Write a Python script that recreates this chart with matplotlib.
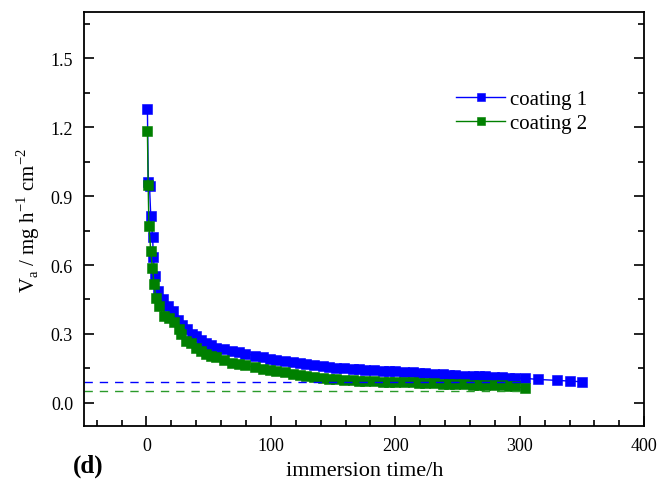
import matplotlib
matplotlib.use("Agg")
import matplotlib.pyplot as plt
from matplotlib.ticker import MultipleLocator

plt.rcParams["font.family"] = ["Liberation Serif", "DejaVu Serif"]

# corrosion rate vs immersion time
t_coat1 = [0.8, 1.5, 2.5, 3.5, 5, 5.6, 6.8, 9, 13, 17, 21, 25, 29, 33, 37, 40,
           44, 48, 52, 56, 62, 69, 74, 79, 87, 94, 99, 104, 111, 118, 123, 128,
           135, 142, 147, 152, 159, 166, 171, 176, 183, 190, 195, 200, 207, 214,
           219, 224, 231, 238, 243, 248, 255, 262, 267, 272, 279, 286, 291, 296,
           304, 315, 330, 340, 350]
va_coat1 = [1.28, 0.96, 0.944, 0.814, 0.72, 0.633, 0.553, 0.487, 0.45, 0.42,
            0.40, 0.36, 0.34, 0.32, 0.30, 0.29, 0.275, 0.262, 0.25, 0.24, 0.233,
            0.226, 0.22, 0.215, 0.206, 0.199, 0.193, 0.188, 0.182, 0.176, 0.172,
            0.168, 0.163, 0.16, 0.157, 0.153, 0.15, 0.148, 0.146, 0.144, 0.142,
            0.14, 0.139, 0.137, 0.135, 0.133, 0.131, 0.129, 0.126, 0.124, 0.122,
            0.121, 0.119, 0.117, 0.116, 0.115, 0.113, 0.111, 0.11, 0.109, 0.107,
            0.102, 0.098, 0.095, 0.092]

t_coat2 = [0.8, 1.4, 2, 3.5, 4.8, 6.2, 7.5, 10, 14, 18, 22, 26, 28, 32, 36, 40,
           44, 48, 52, 56, 62, 69, 74, 79, 87, 94, 99, 104, 111, 118, 123, 128,
           135, 142, 147, 152, 159, 166, 171, 176, 183, 190, 195, 200, 207, 214,
           219, 224, 231, 238, 243, 248, 255, 262, 267, 272, 279, 286, 291, 296,
           304]
va_coat2 = [1.185, 0.95, 0.77, 0.66, 0.589, 0.516, 0.458, 0.422, 0.378, 0.37,
            0.352, 0.32, 0.30, 0.27, 0.26, 0.24, 0.225, 0.215, 0.205, 0.198,
            0.185, 0.175, 0.168, 0.163, 0.155, 0.148, 0.143, 0.14, 0.133, 0.127,
            0.122, 0.118, 0.113, 0.109, 0.106, 0.104, 0.101, 0.099, 0.097, 0.095,
            0.094, 0.093, 0.092, 0.091, 0.09, 0.089, 0.088, 0.087, 0.085, 0.084,
            0.083, 0.082, 0.081, 0.080, 0.079, 0.078, 0.077, 0.076, 0.074, 0.073,
            0.063]

# steady-state levels (dashed)
steady_coat1 = 0.089
steady_coat2 = 0.051
steady_end = 303

fig = plt.figure(figsize=(6.68, 4.89), dpi=100)
ax = fig.add_axes([0.126, 0.127, 0.8385, 0.846])

blue = "#0000ff"
green = "#008000"

ax.plot(t_coat1, va_coat1, color=blue, lw=1.0, marker="s", ms=7,
        mec=blue, mew=0.4, label="coating 1")
ax.plot(t_coat2, va_coat2, color=green, lw=1.0, marker="s", ms=7,
        mec=green, mew=0.4, label="coating 2")

ax.plot([-50, steady_end], [steady_coat1, steady_coat1], color=blue, lw=1.0,
        ls=(0, (6, 5)))
ax.plot([-50, steady_end], [steady_coat2, steady_coat2], color="#2a9a2a", lw=1.0,
        ls=(0, (6, 5)))

ax.set_xlim(-50, 400)
ax.set_ylim(-0.1, 1.7)
ax.xaxis.set_major_locator(MultipleLocator(100))
ax.xaxis.set_minor_locator(MultipleLocator(20))
ax.yaxis.set_major_locator(MultipleLocator(0.3))
ax.yaxis.set_minor_locator(MultipleLocator(0.15))
ax.yaxis.set_major_formatter(plt.FormatStrFormatter("%.1f"))

ax.tick_params(which="both", direction="in", right=True, top=False,
               labelsize=13, width=1.2, pad=8)
ax.tick_params(which="major", length=7)
ax.tick_params(which="minor", length=4)
for sp in ax.spines.values():
    sp.set_linewidth(1.3)

ax.set_xlabel("immersion time/h", fontsize=16, labelpad=5)
ax.set_ylabel(r"V$_\mathregular{a}$ / mg h$^\mathregular{-1}$ cm$^\mathregular{-2}$",
              fontsize=15, labelpad=6)

fig.text(0.132, 0.046, "(d)", fontsize=18, fontweight="bold", ha="center",
         va="center")

ax.legend(loc="upper left", bbox_to_anchor=(0.664, 0.813), frameon=False,
          fontsize=15, handlelength=2.35, handletextpad=0.25, labelspacing=0.2,
          markerscale=0.8, borderpad=0, borderaxespad=0)

fig.savefig("out.png", dpi=100)
